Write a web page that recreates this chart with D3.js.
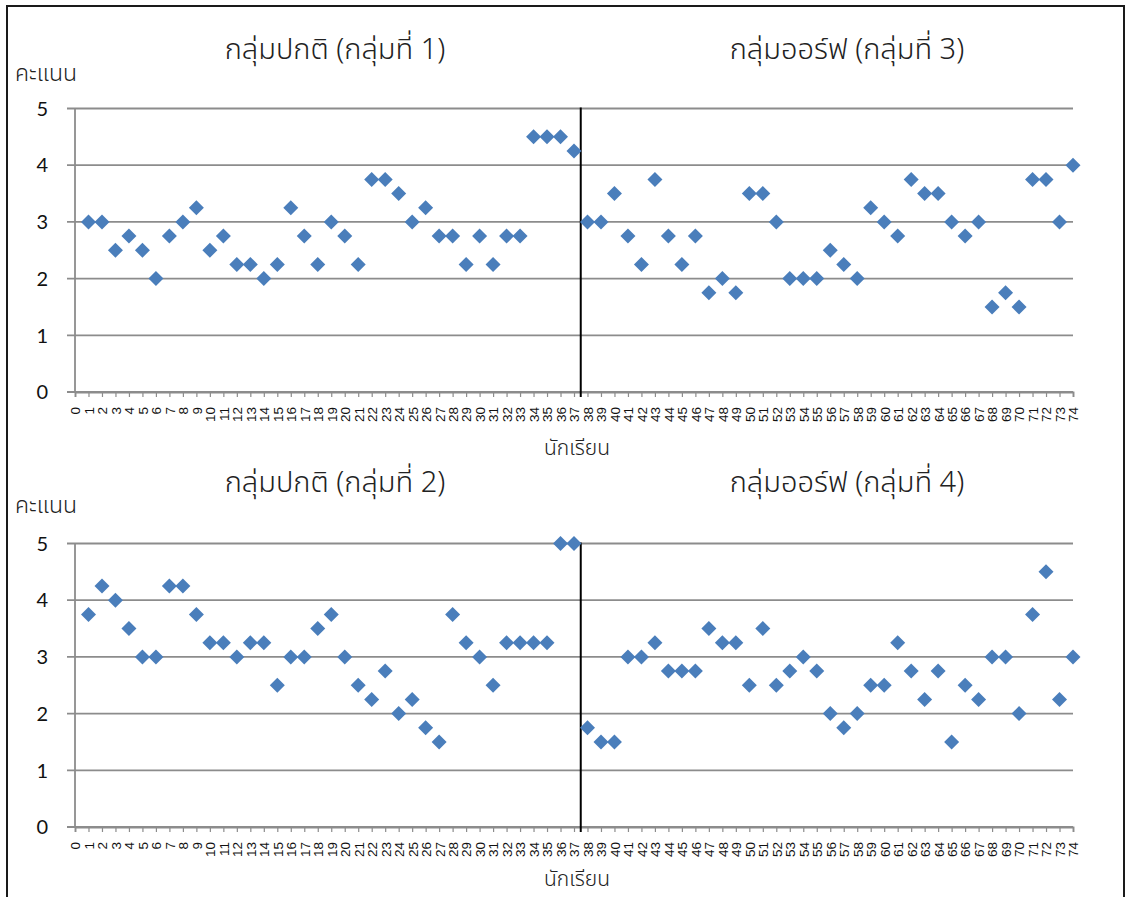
<!DOCTYPE html>
<html><head><meta charset="utf-8">
<script src="https://cdn.jsdelivr.net/npm/d3@7"></script>
<style>body{margin:0;background:#fff}svg{display:block}</style>
</head><body><svg id="c" width="1128" height="897"></svg>
<script>
// ---- data ----
const xTickLabels = d3.range(0, 75).map(String); // "0".."74"
const yTickLabels = [0, 1, 2, 3, 4, 5];
const yAxisTitle = "คะแนน";
const xAxisTitle = "นักเรียน";

const group1Title = "กลุ่มปกติ (กลุ่มที่ 1)";
const group1Students = d3.range(1, 38);
const group1Scores = [3, 3, 2.5, 2.75, 2.5, 2, 2.75, 3, 3.25, 2.5, 2.75, 2.25, 2.25, 2, 2.25, 3.25, 2.75, 2.25, 3, 2.75,
  2.25, 3.75, 3.75, 3.5, 3, 3.25, 2.75, 2.75, 2.25, 2.75, 2.25, 2.75, 2.75, 4.5, 4.5, 4.5, 4.25];

const group3Title = "กลุ่มออร์ฟ (กลุ่มที่ 3)";
const group3Students = d3.range(38, 75);
const group3Scores = [3, 3, 3.5, 2.75, 2.25, 3.75, 2.75, 2.25, 2.75, 1.75, 2, 1.75, 3.5, 3.5, 3, 2, 2, 2, 2.5, 2.25,
  2, 3.25, 3, 2.75, 3.75, 3.5, 3.5, 3, 2.75, 3, 1.5, 1.75, 1.5, 3.75, 3.75, 3, 4];

const group2Title = "กลุ่มปกติ (กลุ่มที่ 2)";
const group2Students = d3.range(1, 38);
const group2Scores = [3.75, 4.25, 4, 3.5, 3, 3, 4.25, 4.25, 3.75, 3.25, 3.25, 3, 3.25, 3.25, 2.5, 3, 3, 3.5, 3.75, 3,
  2.5, 2.25, 2.75, 2, 2.25, 1.75, 1.5, 3.75, 3.25, 3, 2.5, 3.25, 3.25, 3.25, 3.25, 5, 5];

const group4Title = "กลุ่มออร์ฟ (กลุ่มที่ 4)";
const group4Students = d3.range(38, 75);
const group4Scores = [1.75, 1.5, 1.5, 3, 3, 3.25, 2.75, 2.75, 2.75, 3.5, 3.25, 3.25, 2.5, 3.5, 2.5, 2.75, 3, 2.75, 2, 1.75,
  2, 2.5, 2.5, 3.25, 2.75, 2.25, 2.75, 1.5, 2.5, 2.25, 3, 3, 2, 3.75, 4.5, 2.25, 3];

const dividerAt = 37.5;

// ---- drawing ----
const svg = d3.select("#c");
const thai = "'Noto Sans Thai','Noto Sans Thai UI','Loma','Garuda','Noto Sans',sans-serif";
const diamondColor = "#4a7ebb";
const gridColor = "#8c8c8c";

svg.append("rect").attr("x", 7).attr("y", 6).attr("width", 1117).attr("height", 960)
  .attr("fill", "none").attr("stroke", "#1a1a1a").attr("stroke-width", 2);

function panel(cfg) {
  const x = d3.scaleLinear().domain([0, 74]).range([75, 1073]);
  const y = d3.scaleLinear().domain([0, 5]).range([cfg.y0, cfg.y5]);
  const g = svg.append("g");

  // gridlines + y ticks
  g.append("g").selectAll("line").data(yTickLabels).join("line")
    .attr("x1", 67).attr("x2", 1073)
    .attr("y1", d => y(d)).attr("y2", d => y(d))
    .attr("stroke", gridColor).attr("stroke-width", 1.8);

  // y axis line
  g.append("line").attr("x1", x(0)).attr("x2", x(0)).attr("y1", y(5)).attr("y2", y(0))
    .attr("stroke", gridColor).attr("stroke-width", 1.8);

  // y labels
  g.append("g").selectAll("text").data(yTickLabels).join("text")
    .attr("x", 48).attr("y", d => y(d)).attr("dy", "0.36em")
    .attr("text-anchor", "end")
    .attr("font-family", "Lato, 'Open Sans', sans-serif").attr("font-size", 20).attr("fill", "#111")
    .text(d => d);

  // x axis with ticks
  const xAxis = d3.axisBottom(x).tickValues(xTickLabels.map(Number)).tickSize(5).tickFormat(d => d);
  const ax = g.append("g").attr("transform", `translate(0,${y(0)})`).call(xAxis);
  ax.select(".domain").attr("stroke", gridColor).attr("stroke-width", 1.8);
  ax.selectAll(".tick line").attr("stroke", gridColor).attr("stroke-width", 1.2);
  ax.selectAll(".tick text")
    .attr("font-family", "'Liberation Sans', Arial, sans-serif").attr("font-size", 13.5).attr("fill", "#111")
    .attr("text-anchor", "end")
    .attr("transform", "rotate(-90)")
    .attr("x", -15).attr("y", 0).attr("dy", "0.36em");

  // divider
  g.append("line").attr("x1", x(dividerAt)).attr("x2", x(dividerAt))
    .attr("y1", y(5) - 1).attr("y2", y(0) + 5)
    .attr("stroke", "#000").attr("stroke-width", 2);

  // diamonds
  const diamond = "M0,-7.5L7.5,0L0,7.5L-7.5,0Z";
  cfg.series.forEach(s => {
    g.append("g").selectAll("path").data(s.students.map((st, i) => ({st, v: s.scores[i]}))).join("path")
      .attr("d", diamond)
      .attr("transform", d => `translate(${x(d.st)},${y(d.v)})`)
      .attr("fill", diamondColor);
    // title
    g.append("text").attr("x", s.titleX).attr("y", cfg.titleY)
      .attr("text-anchor", "middle").attr("font-family", thai).attr("font-size", 29)
      .attr("font-weight", 300).attr("fill", "#222")
      .text(s.title);
  });

  g.append("text").attr("x", 15).attr("y", cfg.yTitleY)
    .attr("font-family", thai).attr("font-size", 23).attr("font-weight", 300).attr("fill", "#222").text(yAxisTitle);
  g.append("text").attr("x", 577).attr("y", cfg.xTitleY).attr("text-anchor", "middle")
    .attr("font-family", thai).attr("font-size", 21).attr("font-weight", 300).attr("fill", "#222").text(xAxisTitle);
}

panel({y0: 392, y5: 108.5, titleY: 59, yTitleY: 81, xTitleY: 455,
  series: [
    {title: group1Title, students: group1Students, scores: group1Scores, titleX: 335},
    {title: group3Title, students: group3Students, scores: group3Scores, titleX: 847}
  ]});
panel({y0: 827, y5: 543.5, titleY: 492, yTitleY: 513, xTitleY: 886,
  series: [
    {title: group2Title, students: group2Students, scores: group2Scores, titleX: 335},
    {title: group4Title, students: group4Students, scores: group4Scores, titleX: 847}
  ]});
</script>
</body></html>
